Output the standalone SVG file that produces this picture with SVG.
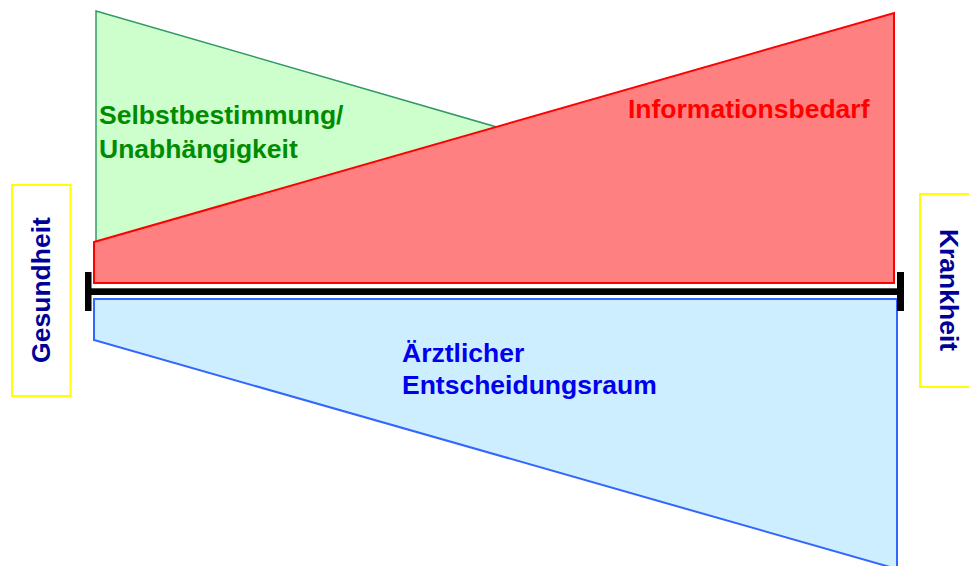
<svg xmlns="http://www.w3.org/2000/svg" width="969" height="566" viewBox="0 0 969 566">
  <style>
    .lbl { font-family: "Liberation Sans", Arial, sans-serif; font-weight: bold; font-size: 26.5px; }
    .pole { fill: #ffffff; stroke: #ffff00; stroke-width: 2; }
    .poletext { fill: #000099; }
  </style>
  <rect width="969" height="566" fill="#ffffff"/>

  <!-- Self-determination wedge (partly covered by the information wedge) -->
  <g id="selbstbestimmung">
    <polygon points="96,11 880,238 96,282" fill="#ccffcc" stroke="#339966" stroke-width="1.5"/>
  </g>

  <!-- Information need wedge -->
  <g id="informationsbedarf">
    <polygon points="94,242 894,13 894,283 94,283" fill="#ff8080" stroke="#ff0000" stroke-width="2"/>
    <text class="lbl" x="628" y="118" fill="#ff0000">Informationsbedarf</text>
  </g>

  <g id="selbstbestimmung-label">
    <text class="lbl" x="99" y="124" fill="#008c00">Selbstbestimmung/</text>
    <text class="lbl" x="99" y="157.5" fill="#008c00">Unabhängigkeit</text>
  </g>

  <!-- Physician's decision space wedge -->
  <g id="entscheidungsraum">
    <polygon points="94,299 897,299 897,569 94,340" fill="#cceeff" stroke="#3366ff" stroke-width="2"/>
    <text class="lbl" x="402" y="362" fill="#0000ee">Ärztlicher</text>
    <text class="lbl" x="402" y="393.5" fill="#0000ee">Entscheidungsraum</text>
  </g>

  <!-- Axis between health and illness -->
  <g id="connectors">
    <rect x="88" y="288.3" width="812" height="6.7" fill="#000000"/>
    <rect x="85" y="272" width="6.5" height="39" fill="#000000"/>
    <rect x="897" y="272" width="7" height="39" fill="#000000"/>
  </g>

  <!-- Poles -->
  <g id="gesundheit">
    <rect class="pole" x="12" y="185" width="58.5" height="211"/>
    <text class="lbl poletext" transform="translate(50,290) rotate(-90)" text-anchor="middle">Gesundheit</text>
  </g>
  <g id="krankheit">
    <rect class="pole" x="920" y="194" width="60" height="193"/>
    <text class="lbl poletext" transform="translate(940,290) rotate(90)" text-anchor="middle">Krankheit</text>
  </g>
</svg>
